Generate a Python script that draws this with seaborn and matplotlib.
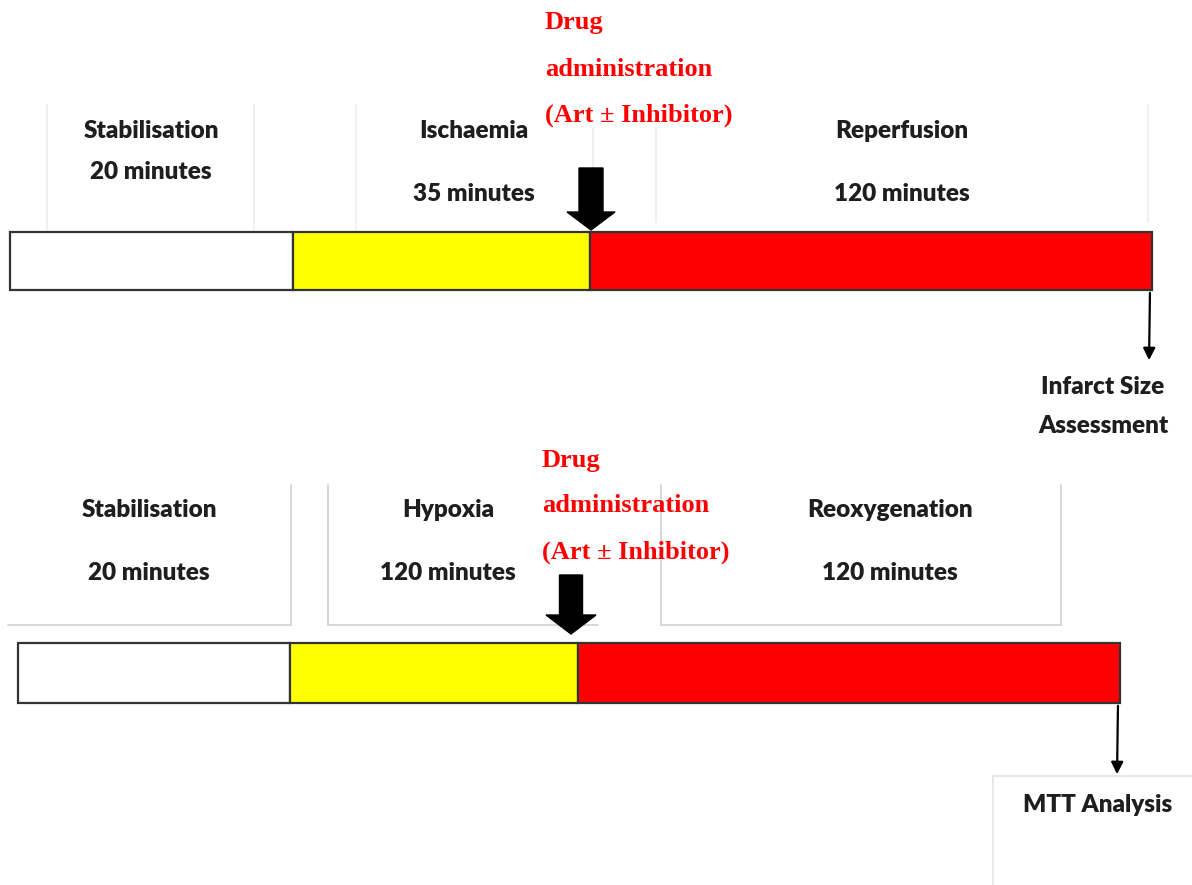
import matplotlib
matplotlib.use("Agg")
import matplotlib.pyplot as plt
from matplotlib.patches import FancyArrow
import seaborn as sns

# protocol phases (top: heart, bottom: cells)
top_phases = ["Stabilisation", "Ischaemia", "Reperfusion"]
top_durations = ["20 minutes", "35 minutes", "120 minutes"]
bottom_phases = ["Stabilisation", "Hypoxia", "Reoxygenation"]
bottom_durations = ["20 minutes", "120 minutes", "120 minutes"]
phase_colors = ["white", "#ffff00", "#ff0000"]

# segment edges along the timeline (diagram units)
top_edges = [10, 293, 590, 1152]
bottom_edges = [18, 290, 578, 1120]

drug_text = ["Drug", "administration", "(Art \u00b1 Inhibitor)"]
top_endpoint = ["Infarct Size", "Assessment"]
bottom_endpoint = ["MTT Analysis"]

sns.set_theme(style="white")
plt.rcParams["font.family"] = ["Lato", "DejaVu Sans"]

fig = plt.figure(figsize=(11.92, 8.85), dpi=100)
ax = fig.add_axes([0, 0, 1, 1])
ax.set_xlim(0, 1192)
ax.set_ylim(885, 0)
ax.axis("off")

label_kw = dict(fontsize=17.5, fontweight="heavy", color="#1e1e1e", ha="center", va="center")
red_kw = dict(fontsize=19, fontweight="bold", color="#ff0000", ha="left", va="center",
              family=["Liberation Serif", "DejaVu Serif"])


def timeline(edges, y_mid, height):
    lefts = edges[:-1]
    widths = [b - a for a, b in zip(edges[:-1], edges[1:])]
    ax.barh([y_mid] * len(lefts), widths, left=lefts, height=height,
            color=phase_colors, edgecolor="#333333", linewidth=1.6, zorder=3)


def frame(segments, color):
    for (x0, y0), (x1, y1) in segments:
        ax.plot([x0, x1], [y0, y1], color=color, lw=1.2, zorder=1)


# faint frames of the text boxes behind the phase names
frame([((47, 105), (47, 230)), ((254, 105), (254, 230)), ((356, 105), (356, 230)),
       ((593, 128), (593, 168)), ((656, 128), (656, 222)), ((1148, 105), (1148, 222))],
      "#ececec")
frame([((291, 485), (291, 625)), ((8, 625), (291, 625)),
       ((328, 485), (328, 625)), ((328, 625), (598, 625)),
       ((661, 485), (661, 625)), ((1061, 485), (1061, 625)), ((661, 625), (1061, 625))],
      "#d2d2d2")
frame([((993, 776), (993, 885)), ((993, 776), (1192, 776))], "#e4e4e4")

# top protocol
timeline(top_edges, 261, 58)
for name, dur, cx, y1, y2 in zip(top_phases, top_durations, [151, 474, 902],
                                 [131, 131, 131], [172, 194, 194]):
    ax.text(cx, y1, name, **label_kw)
    ax.text(cx, y2, dur, **label_kw)
for txt, y in zip(drug_text, [22, 69, 115]):
    ax.text(545, y, txt, **red_kw)
ax.add_patch(FancyArrow(591, 168, 0, 62, width=24, head_width=48, head_length=18,
                        length_includes_head=True, color="black", zorder=4))
ax.annotate("", xy=(1149, 363), xytext=(1150, 290),
            arrowprops=dict(arrowstyle="-|>", color="black", lw=1.6, mutation_scale=18))
for txt, y in zip(top_endpoint, [387, 426]):
    ax.text(1103, y, txt, **label_kw)

# bottom protocol
timeline(bottom_edges, 673, 60)
for name, dur, cx in zip(bottom_phases, bottom_durations, [149, 448, 890]):
    ax.text(cx, 510, name, **label_kw)
    ax.text(cx, 573, dur, **label_kw)
for txt, y in zip(drug_text, [461, 506, 552]):
    ax.text(542, y, txt, **red_kw)
ax.add_patch(FancyArrow(571, 575, 0, 59, width=23, head_width=50, head_length=19,
                        length_includes_head=True, color="black", zorder=4))
ax.annotate("", xy=(1117, 777), xytext=(1118, 703),
            arrowprops=dict(arrowstyle="-|>", color="black", lw=1.6, mutation_scale=18))
ax.text(1098, 805, bottom_endpoint[0], **label_kw)

fig.savefig("out.png", dpi=100, facecolor="white")
plt.close(fig)
